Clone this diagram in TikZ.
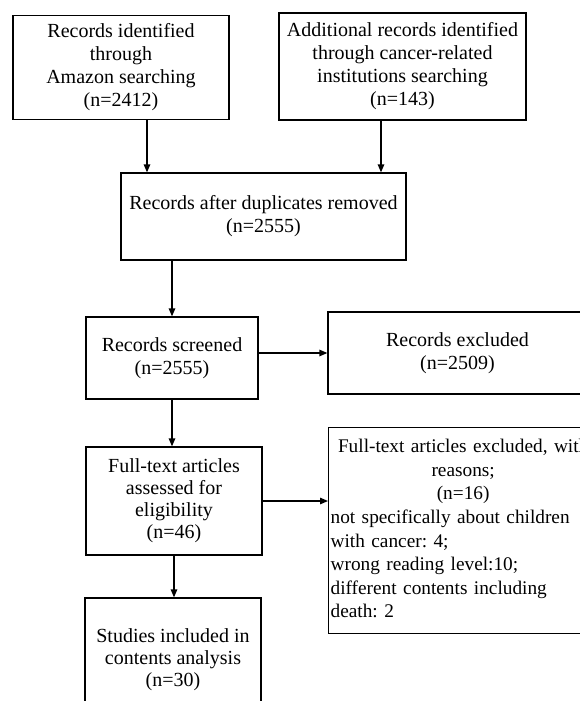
\documentclass[tikz,border=0pt]{standalone}
\usepackage{fontspec}
\setmainfont{Liberation Serif}
\usetikzlibrary{arrows.meta,calc}
\frenchspacing

\tikzset{
	box/.style={draw, line width=1.3pt, inner sep=2pt, align=center, font=\fontsize{20}{23}\selectfont},
	arr/.style={-{Triangle[length=8pt,width=6.5pt]}, line width=1.3pt}
}

\begin{document}
\begin{tikzpicture}[x=1pt,y=-1pt]
			%%%%% START %%%%%
			\useasboundingbox (0,0) rectangle (580,701);
			\clip (0,0) rectangle (580,701);
			
			\node[box, minimum width=216, minimum height=104] (amazon) at (121,67.5) {Records identified\\through\\Amazon searching\\(n=2412)};
			\node[box, minimum width=247, minimum height=107] (inst) at (402.5,66.5) {Additional records identified\\through cancer-related\\institutions searching\\(n=143)};
			
			\node[box, minimum width=285, minimum height=87] (dup) at (263.5,216.5) {Records after duplicates removed\\(n=2555)};
			
			\node[box, minimum width=172, minimum height=82] (screen) at (172,358) {Records screened\\(n=2555)};
			\node[box, minimum width=259, minimum height=82] (excl) at (457.5,353) {Records excluded\\(n=2509)};
			
			\node[box, minimum width=176, minimum height=108, font=\fontsize{20}{22}\selectfont] (full) at (174,501) {Full-text articles\\assessed for\\eligibility\\(n=46)};
			\node[box, anchor=north west, align=left, text width=265pt, text height=23pt, text depth=179pt, font=\fontsize{19.3}{23.6}\selectfont] (reason) at (328,427) {{\centering Full-text articles excluded, with\\reasons;\\(n=16)\par}not specifically about children\\with cancer: 4;\\wrong reading level:10;\\different contents including\\death: 2};
			
			\node[box, minimum width=176, minimum height=124, font=\fontsize{20}{22}\selectfont] (incl) at (173,660) {Studies included in\\contents analysis\\(n=30)};
			
			% connectors
			\draw[arr] ($(amazon.south)+(26,0)$) coordinate (a1) -- (a1 |- dup.north);
			\draw[arr] ($(inst.south)+(-21.5,0)$) coordinate (b1) -- (b1 |- dup.north);
			\draw[arr] (dup.south -| screen.north) -- (screen.north);
			\draw[arr] (screen.east |- excl.west) -- (excl.west);
			\draw[arr] (screen.south) -- (screen.south |- full.north);
			\draw[arr] (full.east) -- (full.east -| reason.west);
			\draw[arr] (full.south) -- (full.south |- incl.north);
			
			%%%%% END %%%%%
\end{tikzpicture}
\end{document}
